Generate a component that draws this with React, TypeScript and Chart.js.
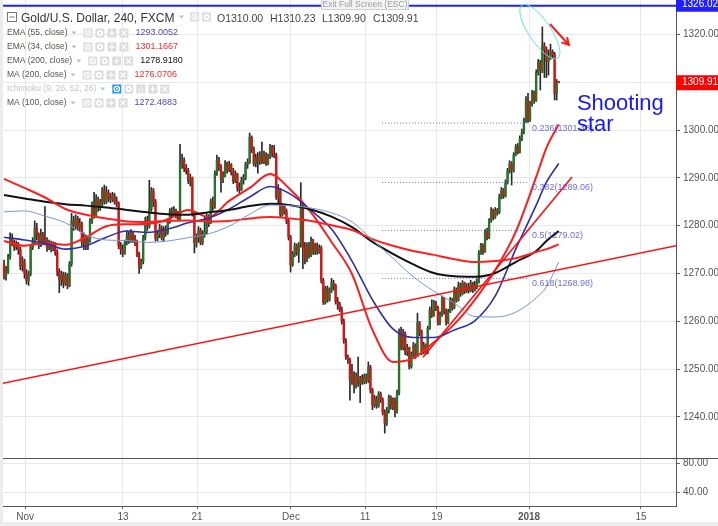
import React, { useEffect, useRef } from 'react';
import { Chart, registerables } from 'chart.js';
Chart.register(...registerables);

const FAM = '"Liberation Sans", Arial, sans-serif';

// ---- 4h candles (open = previous close) ----
const firstOpen = 1272.0;
const closes = [
  1269.5, 1270.5, 1273.5, 1277.5, 1276.5, 1275.5, 1276.2, 1275.0, 1271.5, 1272.5,
  1270.0, 1268.5, 1270.0, 1275.5, 1276.5, 1279.5, 1278.0, 1276.0, 1278.0, 1277.0,
  1276.5, 1275.5, 1276.3, 1275.2, 1276.0, 1274.5, 1270.5, 1268.7, 1269.8, 1268.0,
  1269.5, 1267.5, 1272.0, 1281.0, 1280.0, 1281.5, 1279.5, 1280.5, 1276.5, 1277.5,
  1275.5, 1277.0, 1281.0, 1284.5, 1282.0, 1285.5, 1284.0, 1284.8, 1287.5, 1285.0,
  1287.0, 1286.0, 1285.5, 1286.3, 1285.2, 1284.7, 1275.8, 1275.0, 1274.3, 1276.5,
  1278.0, 1277.0, 1278.5, 1277.2, 1276.5, 1274.0, 1271.4, 1272.5, 1277.5, 1281.0,
  1280.0, 1283.5, 1287.3, 1285.0, 1277.3, 1278.2, 1279.5, 1277.5, 1279.0, 1278.6,
  1281.0, 1283.0, 1282.5, 1283.3, 1282.2, 1281.5, 1293.3, 1293.7, 1292.0, 1291.6,
  1289.5, 1290.0, 1282.6, 1276.4, 1277.5, 1279.0, 1276.5, 1278.2, 1278.6, 1281.8,
  1280.6, 1285.0, 1284.0, 1291.0, 1293.7, 1292.5, 1289.8, 1290.6, 1293.0, 1291.8,
  1292.8, 1291.2, 1289.3, 1290.8, 1288.0, 1287.6, 1289.5, 1290.0, 1292.8, 1293.2,
  1298.5, 1296.0, 1293.0, 1294.2, 1293.5, 1294.8, 1293.3, 1295.0, 1293.0, 1294.5,
  1296.5, 1295.0, 1294.8, 1286.0, 1287.5, 1282.3, 1284.0, 1283.0, 1281.0, 1277.6,
  1271.8, 1274.0, 1275.8, 1274.5, 1276.0, 1284.0, 1275.5, 1273.0, 1275.8, 1273.8,
  1276.8, 1274.6, 1275.8, 1274.6, 1275.4, 1268.5, 1264.0, 1266.8, 1264.5, 1266.5,
  1268.0, 1267.5, 1264.2, 1263.6, 1262.4, 1260.0, 1256.0, 1252.5, 1252.0, 1247.7,
  1249.0, 1246.5, 1248.5, 1247.0, 1248.0, 1247.3, 1248.5, 1247.6, 1250.4, 1245.6,
  1242.5, 1243.8, 1242.3, 1244.8, 1243.6, 1241.0, 1238.7, 1241.3, 1244.0, 1242.2,
  1243.5, 1241.2, 1245.0, 1257.8, 1254.5, 1257.5, 1253.6, 1254.5, 1250.5, 1253.0,
  1255.0, 1252.8, 1259.7, 1257.8, 1253.6, 1255.0, 1253.4, 1258.5, 1262.4, 1261.2,
  1263.8, 1262.8, 1259.7, 1261.4, 1264.8, 1262.0, 1259.7, 1262.0, 1264.5, 1262.8,
  1266.6, 1264.4, 1267.5, 1265.8, 1268.0, 1266.3, 1267.2, 1266.4, 1268.0, 1266.6,
  1267.5, 1268.3, 1274.3, 1275.8, 1274.6, 1278.7, 1277.6, 1281.0, 1283.3, 1281.8,
  1283.2, 1282.8, 1286.0, 1287.4, 1286.2, 1289.0, 1291.5, 1293.0, 1291.6, 1294.8,
  1296.5, 1295.4, 1298.2, 1299.6, 1302.0, 1306.3, 1302.2, 1305.5, 1307.8, 1306.2,
  1312.0, 1314.2, 1312.4, 1317.6, 1316.8, 1314.4, 1315.3, 1316.3, 1315.8, 1307.7,
  1310.0, 1309.91,
];
const highs = [
  1272.8, 1271.5, 1274.0, 1278.5, 1278.3, 1277.0, 1276.8, 1276.5, 1275.5, 1273.5,
  1273.0, 1270.8, 1270.5, 1276.0, 1277.5, 1281.0, 1280.5, 1278.5, 1279.3, 1278.6,
  1284.0, 1277.5, 1277.0, 1276.8, 1276.6, 1276.5, 1275.0, 1271.0, 1270.5, 1270.3,
  1270.2, 1270.0, 1272.5, 1282.6, 1282.0, 1282.3, 1282.0, 1281.5, 1280.8, 1278.5,
  1278.0, 1277.5, 1281.5, 1285.0, 1287.0, 1286.5, 1286.0, 1285.5, 1288.0, 1288.5,
  1288.2, 1287.5, 1286.8, 1287.0, 1286.8, 1286.0, 1285.0, 1276.5, 1276.0, 1277.0,
  1279.0, 1278.8, 1279.2, 1278.8, 1278.0, 1277.0, 1274.5, 1273.0, 1278.0, 1281.8,
  1282.0, 1289.5, 1288.0, 1287.8, 1285.5, 1279.0, 1280.3, 1280.0, 1279.8, 1280.0,
  1281.5, 1283.6, 1283.8, 1284.0, 1283.5, 1283.0, 1297.0, 1295.0, 1294.2, 1292.8,
  1292.0, 1290.8, 1290.2, 1283.0, 1278.3, 1279.8, 1279.5, 1279.0, 1281.8, 1282.5,
  1282.3, 1285.6, 1286.0, 1291.5, 1294.8, 1294.3, 1292.8, 1291.3, 1293.6, 1293.3,
  1293.5, 1293.0, 1292.0, 1291.5, 1291.0, 1289.0, 1290.2, 1290.7, 1293.3, 1294.0,
  1299.4, 1298.8, 1296.5, 1295.0, 1295.3, 1295.5, 1297.5, 1295.6, 1295.3, 1295.0,
  1297.0, 1296.8, 1296.8, 1295.2, 1288.6, 1287.8, 1284.6, 1284.5, 1283.5, 1281.4,
  1278.0, 1274.6, 1276.4, 1276.2, 1276.5, 1289.0, 1284.5, 1276.5, 1276.4, 1276.5,
  1277.6, 1277.2, 1276.3, 1276.4, 1276.0, 1275.8, 1269.0, 1267.3, 1267.4, 1267.0,
  1269.0, 1268.6, 1267.8, 1265.0, 1264.0, 1263.0, 1260.5, 1256.4, 1253.0, 1252.3,
  1251.0, 1249.5, 1249.2, 1252.5, 1248.5, 1248.8, 1249.0, 1249.0, 1251.5, 1250.8,
  1246.0, 1244.5, 1244.3, 1245.3, 1245.2, 1244.0, 1241.5, 1242.0, 1244.6, 1244.4,
  1244.0, 1244.0, 1245.6, 1258.4, 1258.8, 1258.3, 1257.8, 1255.2, 1254.6, 1253.6,
  1255.6, 1255.3, 1261.7, 1260.0, 1258.2, 1255.6, 1255.3, 1259.0, 1263.0, 1264.5,
  1264.4, 1264.2, 1263.2, 1262.0, 1265.3, 1265.0, 1262.6, 1262.5, 1265.0, 1264.8,
  1267.2, 1267.0, 1268.2, 1268.0, 1268.5, 1268.2, 1267.9, 1268.0, 1268.6, 1268.2,
  1268.4, 1268.9, 1274.8, 1276.3, 1276.2, 1279.2, 1279.5, 1281.5, 1283.8, 1283.5,
  1283.8, 1283.6, 1286.6, 1288.0, 1287.8, 1289.6, 1292.0, 1293.6, 1293.4, 1295.3,
  1297.0, 1297.2, 1298.8, 1300.2, 1302.5, 1307.0, 1307.7, 1306.0, 1308.3, 1308.2,
  1312.6, 1314.8, 1314.6, 1321.6, 1318.3, 1317.4, 1316.8, 1318.0, 1316.8, 1316.3,
  1310.6, 1310.23,
];
const lows = [
  1268.8, 1268.6, 1270.0, 1273.0, 1275.8, 1274.8, 1275.0, 1274.0, 1270.8, 1270.5,
  1269.0, 1267.8, 1267.5, 1269.5, 1275.0, 1276.0, 1277.0, 1275.2, 1275.6, 1276.0,
  1276.0, 1274.6, 1275.0, 1274.5, 1274.8, 1273.8, 1269.5, 1266.0, 1267.5, 1267.0,
  1267.5, 1266.8, 1267.2, 1271.5, 1279.0, 1279.2, 1279.0, 1278.8, 1275.8, 1275.0,
  1275.0, 1275.0, 1276.5, 1280.5, 1281.6, 1281.8, 1283.0, 1283.2, 1284.0, 1284.5,
  1284.6, 1285.0, 1284.8, 1285.0, 1284.5, 1284.0, 1275.2, 1274.0, 1273.5, 1274.0,
  1276.0, 1276.3, 1276.5, 1276.5, 1275.8, 1273.5, 1270.0, 1271.0, 1272.0, 1277.0,
  1279.0, 1279.5, 1283.0, 1284.0, 1276.8, 1276.8, 1277.5, 1277.0, 1276.8, 1277.8,
  1278.2, 1280.5, 1281.8, 1282.0, 1281.6, 1281.0, 1281.2, 1292.0, 1291.3, 1290.8,
  1288.8, 1288.3, 1282.0, 1274.3, 1275.5, 1276.5, 1276.0, 1276.0, 1277.6, 1278.2,
  1279.8, 1280.4, 1283.2, 1283.6, 1290.5, 1291.5, 1287.0, 1289.0, 1290.2, 1291.0,
  1291.3, 1290.6, 1288.8, 1289.0, 1287.2, 1286.8, 1287.3, 1288.7, 1289.6, 1292.0,
  1293.0, 1295.3, 1292.5, 1292.3, 1291.0, 1292.8, 1293.0, 1293.0, 1292.6, 1292.7,
  1294.0, 1294.4, 1294.2, 1285.5, 1284.6, 1281.8, 1282.0, 1282.4, 1280.4, 1277.0,
  1270.3, 1271.5, 1273.5, 1273.8, 1272.3, 1275.5, 1271.0, 1272.0, 1272.4, 1273.2,
  1273.5, 1274.0, 1274.0, 1274.0, 1274.2, 1268.0, 1263.5, 1263.6, 1264.0, 1264.2,
  1266.0, 1266.5, 1263.6, 1262.5, 1262.0, 1259.4, 1255.4, 1252.0, 1251.2, 1243.5,
  1246.8, 1245.0, 1246.0, 1246.4, 1243.0, 1246.8, 1246.9, 1247.0, 1247.2, 1245.0,
  1241.5, 1242.0, 1241.8, 1242.0, 1243.0, 1240.4, 1236.6, 1238.2, 1240.8, 1241.6,
  1241.5, 1240.0, 1240.8, 1244.6, 1254.0, 1254.0, 1253.0, 1252.8, 1250.0, 1250.2,
  1252.4, 1252.2, 1252.6, 1257.0, 1253.0, 1253.2, 1253.0, 1253.2, 1258.3, 1260.8,
  1261.0, 1262.2, 1259.2, 1259.3, 1261.0, 1261.5, 1259.2, 1259.5, 1261.8, 1262.3,
  1262.6, 1264.0, 1264.2, 1265.2, 1265.5, 1265.8, 1266.0, 1265.9, 1266.2, 1266.0,
  1266.3, 1266.8, 1268.0, 1274.0, 1274.0, 1274.4, 1277.0, 1277.3, 1280.7, 1281.2,
  1281.5, 1282.2, 1282.5, 1285.6, 1285.7, 1286.0, 1288.7, 1291.0, 1288.5, 1291.2,
  1294.6, 1295.0, 1295.2, 1297.8, 1299.2, 1301.6, 1301.6, 1301.8, 1305.0, 1305.6,
  1306.0, 1311.5, 1308.4, 1312.0, 1311.0, 1311.0, 1311.5, 1314.8, 1315.0, 1306.3,
  1306.3, 1309.9,
];

// ---- moving averages (sampled at candle indices) ----
const maIdx = [0, 10, 20, 30, 40, 50, 60, 70, 80, 90, 100, 110, 120, 130, 140, 150, 160, 170, 180, 190, 200, 210, 220, 230, 240, 250, 260, 265, 271];
const ema55 = [1277.6, 1277.0, 1276.3, 1275.1, 1275.8, 1277.6, 1278.9, 1278.6, 1279.3, 1280.6, 1281.6, 1283.5, 1286.0, 1288.2, 1286.6, 1283.2, 1279.3, 1272.6, 1264.5, 1258.4, 1256.6, 1256.6, 1258.2, 1260.1, 1265.3, 1275.1, 1284.3, 1289.1, 1293.0];
const ema34 = [1276.8, 1275.8, 1276.4, 1276.0, 1277.6, 1279.9, 1280.3, 1280.4, 1281.3, 1283.3, 1281.8, 1285.2, 1287.9, 1290.8, 1287.5, 1282.8, 1276.6, 1269.9, 1258.2, 1251.5, 1252.3, 1255.6, 1259.4, 1264.5, 1270.7, 1278.7, 1290.2, 1296.3, 1301.2];
const ema200 = [1286.4, 1285.7, 1285.0, 1284.5, 1284.2, 1283.8, 1283.3, 1282.8, 1282.4, 1282.3, 1282.8, 1283.3, 1284.1, 1284.6, 1284.3, 1283.4, 1281.9, 1279.7, 1276.6, 1274.1, 1271.9, 1270.1, 1269.4, 1269.3, 1270.1, 1272.4, 1274.7, 1276.8, 1278.9];
const ma200 = [1289.8, 1287.9, 1285.9, 1283.5, 1282.3, 1281.5, 1280.9, 1280.8, 1281.0, 1281.1, 1280.9, 1281.0, 1281.5, 1281.8, 1281.5, 1281.0, 1280.1, 1279.1, 1277.2, 1275.8, 1274.7, 1273.9, 1273.0, 1272.4, 1272.6, 1273.2, 1274.5, 1275.1, 1276.1];
const ma100 = [1282.9, 1283.1, 1282.0, 1280.6, 1278.1, 1277.0, 1276.9, 1276.5, 1276.8, 1277.5, 1278.3, 1279.9, 1282.4, 1284.3, 1284.2, 1283.7, 1282.7, 1280.8, 1277.0, 1273.2, 1269.3, 1266.3, 1263.8, 1261.0, 1260.9, 1261.9, 1264.9, 1267.2, 1272.4];

// ---- axes ----
const xMin = -0.5;
const xMax = 328.3;
const xTickPos = [10.3, 58.1, 94.3, 140.2, 176.4, 211.5, 256.5, 311.2];
const xTickLabels = ['Nov', '13', '21', 'Dec', '11', '19', '2018', '15'];
const priceTicks = [1240, 1250, 1260, 1270, 1280, 1290, 1300, 1310, 1320];
const priceMin = 1231.4;
const priceMax = 1327.22;
const lowerTicks = [40, 80];

// ---- drawings ----
const fibLevels = [0.236, 0.382, 0.5, 0.618];
const fibPrices = [1301.48, 1289.06, 1279.02, 1268.98];
const fibStart = 184.7;
const fibEnd = 255.5;
const trendLongX = [-1.95, 348.8];
const trendLongY = [1246.9, 1277.6];
const trendShortX = [204.7, 277.5];
const trendShortY = [1252.5, 1290.2];
const hLinePrice = 1326.02;
const lastPrice = 1309.91;
const arrowX = [266.7, 276.0];
const arrowY = [1322.2, 1317.8];
const ellipseAt = [261.8, 1320.6];
const noteLines = ['Shooting', 'star'];
const noteAt = [279.9, 1304.3];

// ---- legend ----
const titleText = 'Gold/U.S. Dollar, 240, FXCM';
const ohlcTexts = ['O1310.00', 'H1310.23', 'L1309.90', 'C1309.91'];
const legendNames = ['EMA (55, close)', 'EMA (34, close)', 'EMA (200, close)', 'MA (200, close)', 'Ichimoku (9, 26, 52, 26)', 'MA (100, close)'];
const legendValues = ['1293.0052', '1301.1667', '1278.9180', '1276.0706', '', '1272.4883'];
const legendColors = ['#4848c8', '#ff2a2a', '#111111', '#ff2a2a', '#bbbbbb', '#4848c8'];

function drawIcon(ctx: CanvasRenderingContext2D, x: number, y: number, kind: string, active = false) {
  const bg = active ? '#2196f3' : '#dcdcdc';
  ctx.fillStyle = bg;
  ctx.fillRect(x, y, 9, 9);
  ctx.strokeStyle = '#fff';
  ctx.fillStyle = '#fff';
  ctx.lineWidth = 1.2;
  const cx = x + 4.5;
  const cy = y + 4.5;
  ctx.beginPath();
  if (kind === 'eye') {
    ctx.arc(cx, cy, 2.7, 0, Math.PI * 2);
    ctx.stroke();
    ctx.beginPath();
    ctx.arc(cx, cy, 1, 0, Math.PI * 2);
    ctx.fill();
  } else if (kind === 'gear') {
    ctx.arc(cx, cy, 3, 0, Math.PI * 2);
    ctx.fill();
    ctx.fillStyle = bg;
    ctx.beginPath();
    ctx.arc(cx, cy, 1.2, 0, Math.PI * 2);
    ctx.fill();
  } else if (kind === 'plus') {
    ctx.moveTo(cx, y + 1.5); ctx.lineTo(cx, y + 7.5);
    ctx.moveTo(x + 1.5, cy); ctx.lineTo(x + 7.5, cy);
    ctx.stroke();
  } else if (kind === 'x') {
    ctx.moveTo(x + 2, y + 2); ctx.lineTo(x + 7, y + 7);
    ctx.moveTo(x + 7, y + 2); ctx.lineTo(x + 2, y + 7);
    ctx.stroke();
  } else if (kind === 'paren') {
    ctx.font = `8px ${FAM}`;
    ctx.textAlign = 'center';
    ctx.textBaseline = 'middle';
    ctx.fillText('()', cx, cy + 0.5);
    ctx.textAlign = 'left';
  }
}

function caret(ctx: CanvasRenderingContext2D, x: number, cy: number) {
  ctx.fillStyle = '#bdbdbd';
  ctx.beginPath();
  ctx.moveTo(x, cy - 1.5);
  ctx.lineTo(x + 5, cy - 1.5);
  ctx.lineTo(x + 2.5, cy + 1.5);
  ctx.closePath();
  ctx.fill();
}

const noPad = (s: any, prop: 'width' | 'height', v: number) => {
  s[prop] = v;
  s.paddingTop = 0;
  s.paddingBottom = 0;
  s.paddingLeft = 0;
  s.paddingRight = 0;
};

const overlay = {
  id: 'overlay',
  beforeDraw(chart: any) {
    const ctx = chart.ctx;
    ctx.save();
    ctx.fillStyle = '#ffffff';
    ctx.fillRect(0, 0, chart.width, chart.height);
    ctx.restore();
  },
  afterDatasetsDraw(chart: any) {
    const ctx: CanvasRenderingContext2D = chart.ctx;
    const x = chart.scales.x;
    const y = chart.scales.y;
    const ca = chart.chartArea;
    ctx.save();
    ctx.beginPath();
    ctx.rect(ca.left, y.top, ca.right - ca.left, y.bottom - y.top);
    ctx.clip();
    // fib labels
    ctx.font = `9px ${FAM}`;
    ctx.fillStyle = 'rgba(70,70,250,0.8)';
    ctx.textBaseline = 'middle';
    ctx.textAlign = 'left';
    fibLevels.forEach((lv, k) => {
      ctx.fillText(`${lv}(${fibPrices[k].toFixed(2)})`, x.getPixelForValue(fibEnd) + 5, y.getPixelForValue(fibPrices[k]) + 5);
    });
    // ellipse
    ctx.strokeStyle = '#57e6f7';
    ctx.lineWidth = 1;
    ctx.beginPath();
    ctx.ellipse(x.getPixelForValue(ellipseAt[0]), y.getPixelForValue(ellipseAt[1]), 32, 11, (56 * Math.PI) / 180, 0, Math.PI * 2);
    ctx.stroke();
    // arrow
    const ax0 = x.getPixelForValue(arrowX[0]);
    const ay0 = y.getPixelForValue(arrowY[0]);
    const ax1 = x.getPixelForValue(arrowX[1]);
    const ay1 = y.getPixelForValue(arrowY[1]);
    const ang = Math.atan2(ay1 - ay0, ax1 - ax0);
    ctx.strokeStyle = '#ff1a1a';
    ctx.lineWidth = 2;
    ctx.beginPath();
    ctx.moveTo(ax0, ay0);
    ctx.lineTo(ax1, ay1);
    ctx.moveTo(ax1 - 8 * Math.cos(ang - 0.5), ay1 - 8 * Math.sin(ang - 0.5));
    ctx.lineTo(ax1, ay1);
    ctx.lineTo(ax1 - 8 * Math.cos(ang + 0.5), ay1 - 8 * Math.sin(ang + 0.5));
    ctx.stroke();
    // note
    ctx.font = `22px ${FAM}`;
    ctx.fillStyle = '#1717ff';
    ctx.textBaseline = 'alphabetic';
    const nx = x.getPixelForValue(noteAt[0]);
    const ny = y.getPixelForValue(noteAt[1]);
    noteLines.forEach((t, k) => ctx.fillText(t, nx, ny + k * 21.5));
    ctx.restore();
  },
  afterDraw(chart: any) {
    const ctx: CanvasRenderingContext2D = chart.ctx;
    const y = chart.scales.y;
    const ca = chart.chartArea;
    const W = chart.width;
    ctx.save();
    // pane separator
    ctx.strokeStyle = '#555';
    ctx.lineWidth = 1;
    ctx.beginPath();
    ctx.moveTo(0, Math.round(y.bottom) + 0.5);
    ctx.lineTo(W, Math.round(y.bottom) + 0.5);
    ctx.stroke();
    // price labels
    const yh = y.getPixelForValue(hLinePrice);
    ctx.fillStyle = '#1f1fff';
    ctx.fillRect(ca.right, yh - 7, W - ca.right, 13);
    const yl = y.getPixelForValue(lastPrice);
    ctx.fillStyle = '#ff0000';
    ctx.fillRect(ca.right, yl - 7.5, W - ca.right, 15);
    ctx.fillStyle = '#fff';
    ctx.font = `10px ${FAM}`;
    ctx.textBaseline = 'middle';
    ctx.textAlign = 'left';
    ctx.fillText(hLinePrice.toFixed(2), ca.right + 6, yh - 1);
    ctx.fillText(lastPrice.toFixed(2), ca.right + 6, yl);
    // exit full screen hint
    ctx.fillStyle = '#f4f4f4';
    ctx.fillRect(321, -1, 88, 11);
    ctx.strokeStyle = '#d0d0d0';
    ctx.strokeRect(321.5, -0.5, 87, 10);
    ctx.fillStyle = '#9a9a9a';
    ctx.font = `8.5px ${FAM}`;
    ctx.textAlign = 'center';
    ctx.fillText('Exit Full Screen (ESC)', 365, 5);
    ctx.textAlign = 'left';
    // legend title row
    ctx.strokeStyle = '#777';
    ctx.lineWidth = 1;
    ctx.strokeRect(7.5, 12.5, 9, 9);
    ctx.beginPath();
    ctx.moveTo(9.5, 17); ctx.lineTo(14.5, 17);
    ctx.stroke();
    ctx.fillStyle = '#333';
    ctx.font = `12px ${FAM}`;
    ctx.textBaseline = 'alphabetic';
    ctx.fillText(titleText, 21, 21.5);
    caret(ctx, 179, 17);
    drawIcon(ctx, 190, 12.5, 'eye');
    drawIcon(ctx, 202, 12.5, 'gear');
    ctx.fillStyle = '#444';
    ctx.font = `10.5px ${FAM}`;
    const ohlcX = [217, 270, 322, 373];
    ohlcTexts.forEach((t, k) => ctx.fillText(t, ohlcX[k], 21.5));
    // indicator rows
    legendNames.forEach((name, k) => {
      const cy = 33 + k * 14;
      const isIchi = legendValues[k] === '';
      ctx.font = `8.5px ${FAM}`;
      ctx.fillStyle = isIchi ? '#c4c4c4' : '#5a5050';
      ctx.textBaseline = 'middle';
      ctx.fillText(name, 7, cy);
      const w = ctx.measureText(name).width;
      caret(ctx, 7 + w + 4, cy);
      const ix = 7 + w + 16;
      const kinds = isIchi ? ['eye', 'gear', 'paren', 'plus', 'x'] : ['eye', 'gear', 'plus', 'x'];
      kinds.forEach((kd, j) => drawIcon(ctx, ix + j * 12, cy - 4.5, kd, isIchi && j === 0));
      if (!isIchi) {
        ctx.font = `9px ${FAM}`;
        ctx.fillStyle = legendColors[k];
        ctx.textBaseline = 'middle';
        ctx.fillText(legendValues[k], ix + 52, cy);
      }
    });
    // frame strips
    ctx.fillStyle = '#ececec';
    ctx.fillRect(0, 0, 3, chart.height);
    ctx.fillRect(0, chart.height - 4, W, 4);
    ctx.restore();
  },
};

export default function App() {
  const ref = useRef<HTMLCanvasElement | null>(null);
  useEffect(() => {
    if (!ref.current) return;
    const opens = closes.map((c, i) => (i === 0 ? firstOpen : closes[i - 1]));
    const wickData = closes.map((c, i) => ({ x: i, y: [lows[i], highs[i]] }));
    const bodyData = closes.map((c, i) => ({ x: i, y: [opens[i], c] }));
    const bodyColors = closes.map((c, i) => (c >= opens[i] ? '#26732a' : '#d41414'));
    const maLine = (vals: number[], color: string, width: number, label: string) => ({
      type: 'line' as const,
      label,
      data: maIdx.map((ix, k) => ({ x: ix, y: vals[k] })),
      borderColor: color,
      borderWidth: width,
      pointRadius: 0,
      cubicInterpolationMode: 'monotone' as const,
      yAxisID: 'y',
      order: 5,
    });
    const seg = (xs: number[], ys: number[], color: string, width: number, dash: number[] = []) => ({
      type: 'line' as const,
      data: xs.map((xv, k) => ({ x: xv, y: ys[k] })),
      borderColor: color,
      borderWidth: width,
      borderDash: dash,
      pointRadius: 0,
      yAxisID: 'y',
      order: 1,
    });
    const fibSets = fibPrices.map((p) => seg([fibStart, fibEnd], [p, p], 'rgba(80,80,255,0.85)', 1, [1, 2]));
    const chart = new Chart(ref.current, {
      type: 'line',
      data: {
        datasets: [
          {
            type: 'bar',
            data: wickData as any,
            backgroundColor: '#2a2a2a',
            barThickness: 1,
            grouped: false,
            yAxisID: 'y',
            order: 10,
          } as any,
          {
            type: 'bar',
            data: bodyData as any,
            backgroundColor: bodyColors,
            barThickness: 1.7,
            minBarLength: 1,
            grouped: false,
            yAxisID: 'y',
            order: 9,
          } as any,
          maLine(ma100, '#7894d8', 1, 'MA100'),
          maLine(ma200, '#ff2020', 2, 'MA200'),
          maLine(ema200, '#111111', 2, 'EMA200'),
          maLine(ema55, '#2f2fa8', 1.6, 'EMA55'),
          maLine(ema34, '#ff1c1c', 2, 'EMA34'),
          seg(trendLongX, trendLongY, '#ff1010', 1.6),
          seg(trendShortX, trendShortY, '#ff1010', 1.6),
          seg([xMin, xMax], [hLinePrice, hLinePrice], '#2020ff', 2),
          ...fibSets,
        ] as any,
      },
      options: {
        animation: false,
        responsive: false,
        devicePixelRatio: 1,
        events: [],
        layout: { padding: { left: 3, top: 0, right: 0, bottom: 0 } },
        plugins: { legend: { display: false }, tooltip: { enabled: false } },
        scales: {
          x: {
            type: 'linear',
            min: xMin,
            max: xMax,
            offset: false,
            position: 'bottom',
            afterFit: (s: any) => noPad(s, 'height', 20),
            afterBuildTicks: (s: any) => { s.ticks = xTickPos.map((v) => ({ value: v })); },
            grid: { color: '#e8e8e8', offset: false, drawTicks: true, tickLength: 3, tickColor: '#666' },
            border: { display: true, color: '#555' },
            ticks: {
              autoSkip: false,
              maxRotation: 0,
              padding: 2,
              color: '#555',
              font: (c: any) => ({ family: FAM, size: 10, weight: c.tick && c.tick.label === '2018' ? 'bold' : 'normal' }),
              callback: (v: any) => {
                const k = xTickPos.indexOf(Number(v));
                return k >= 0 ? xTickLabels[k] : '';
              },
            },
          },
          y: {
            type: 'linear',
            position: 'right',
            stack: 'pane',
            stackWeight: 458,
            min: priceMin,
            max: priceMax,
            afterFit: (s: any) => noPad(s, 'width', 42),
            afterBuildTicks: (s: any) => { s.ticks = priceTicks.map((v) => ({ value: v })); },
            grid: { color: '#e8e8e8', drawTicks: true, tickLength: 4, tickColor: '#666' },
            border: { display: true, color: '#555' },
            ticks: {
              padding: 3,
              color: '#555',
              font: { family: FAM, size: 10 },
              callback: (v: any) => Number(v).toFixed(2),
            },
          },
          y2: {
            type: 'linear',
            position: 'right',
            stack: 'pane',
            stackWeight: 48,
            min: 20.7,
            max: 87.3,
            afterFit: (s: any) => noPad(s, 'width', 42),
            afterBuildTicks: (s: any) => { s.ticks = lowerTicks.map((v) => ({ value: v })); },
            grid: { color: '#e8e8e8', drawTicks: true, tickLength: 4, tickColor: '#666' },
            border: { display: true, color: '#555' },
            ticks: {
              padding: 3,
              color: '#555',
              font: { family: FAM, size: 10 },
              callback: (v: any) => Number(v).toFixed(2),
            },
          },
        },
      } as any,
      plugins: [overlay],
    });
    return () => chart.destroy();
  }, []);
  return (
    <div style={{ position: 'absolute', left: 0, top: 0, width: 718, height: 526 }}>
      <canvas ref={ref} width={718} height={526} style={{ display: 'block' }} />
    </div>
  );
}
